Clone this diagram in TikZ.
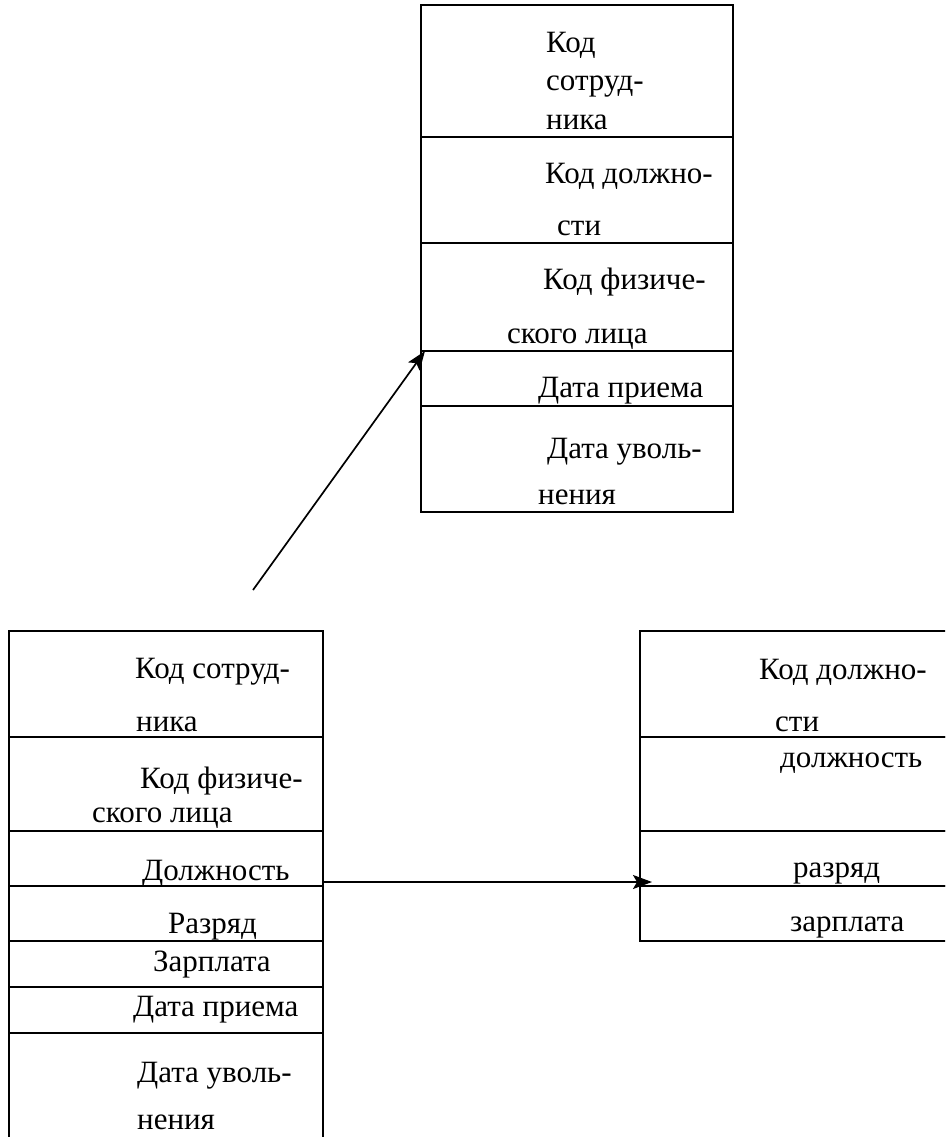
\documentclass[tikz,border=0pt]{standalone}
\usepackage{fontspec}
\setmainfont{Liberation Serif}
\newfontfamily\tabfont{Liberation Serif}
\usetikzlibrary{arrows.meta,positioning}

\begin{document}
\begin{tikzpicture}[
    x=1pt, y=-1pt,
    cell/.style={rectangle, draw=black, line width=1.6pt, inner sep=0pt, outer sep=0pt, anchor=north west},
    lbl/.style={inner sep=0pt, anchor=base west, font=\tabfont\fontsize{31}{37}\selectfont},
    arrow/.style={line width=1.7pt, -{Stealth[length=19pt, width=14pt, inset=4pt]}}
]
\useasboundingbox (0,0) rectangle (945,1137);
\clip (0,0) rectangle (945,1137);

% Top table: staff
\node[cell, minimum width=312pt, minimum height=132pt] (st1) at (421,5) {};
\node[cell, minimum width=312pt, minimum height=106pt, below=0pt of st1] (st2) {};
\node[cell, minimum width=312pt, minimum height=108pt, below=0pt of st2] (st3) {};
\node[cell, minimum width=312pt, minimum height=55pt, below=0pt of st3] (st4) {};
\node[cell, minimum width=312pt, minimum height=106pt, below=0pt of st4] (st5) {};

\node[lbl] (st1a) at (546,53) {Код};
\node[lbl] (st1b) at (546,91) {сотруд-};
\node[lbl] (st1c) at (546,129) {ника};
\node[lbl] (st2a) at (545,183) {Код должно-};
\node[lbl] (st2b) at (557,235) {сти};
\node[lbl] (st3a) at (543,289) {Код физиче-};
\node[lbl] (st3b) at (507,343) {ского лица};
\node[lbl] (st4a) at (538,397) {Дата приема};
\node[lbl] (st5a) at (547,458) {Дата уволь-};
\node[lbl] (st5b) at (538,504) {нения};

% Bottom left table: employee
\node[cell, minimum width=314pt, minimum height=106pt] (em1) at (9,631) {};
\node[cell, minimum width=314pt, minimum height=94pt, below=0pt of em1] (em2) {};
\node[cell, minimum width=314pt, minimum height=55pt, below=0pt of em2] (em3) {};
\node[cell, minimum width=314pt, minimum height=55pt, below=0pt of em3] (em4) {};
\node[cell, minimum width=314pt, minimum height=46pt, below=0pt of em4] (em5) {};
\node[cell, minimum width=314pt, minimum height=46pt, below=0pt of em5] (em6) {};
\node[cell, minimum width=314pt, minimum height=130pt, below=0pt of em6] (em7) {};

\node[lbl] (em1a) at (135,678) {Код сотруд-};
\node[lbl] (em1b) at (136,731) {ника};
\node[lbl] (em2a) at (140,788) {Код физиче-};
\node[lbl] (em2b) at (92,822) {ского лица};
\node[lbl] (em3a) at (142,880) {Должность};
\node[lbl] (em4a) at (168,933) {Разряд};
\node[lbl] (em5a) at (153,971) {Зарплата};
\node[lbl] (em6a) at (133,1016) {Дата приема};
\node[lbl] (em7a) at (137,1082) {Дата уволь-};
\node[lbl] (em7b) at (137,1129) {нения};

% Bottom right table: position
\node[cell, minimum width=320pt, minimum height=106pt] (ps1) at (640,631) {};
\node[cell, minimum width=320pt, minimum height=94pt, below=0pt of ps1] (ps2) {};
\node[cell, minimum width=320pt, minimum height=55pt, below=0pt of ps2] (ps3) {};
\node[cell, minimum width=320pt, minimum height=55pt, below=0pt of ps3] (ps4) {};

\node[lbl] (ps1a) at (759,679) {Код должно-};
\node[lbl] (ps1b) at (775,731) {сти};
\node[lbl] (ps2a) at (780,767) {должность};
\node[lbl] (ps3a) at (793,877) {разряд};
\node[lbl] (ps4a) at (790,931) {зарплата};

% Links
\coordinate (from1) at (253,590);
\draw[arrow] (from1) -- ([xshift=4pt]st4.north west);
\draw[arrow] ([yshift=4pt]em3.south east) -- ([xshift=12pt,yshift=4pt]ps3.south west);

\end{tikzpicture}
\end{document}
